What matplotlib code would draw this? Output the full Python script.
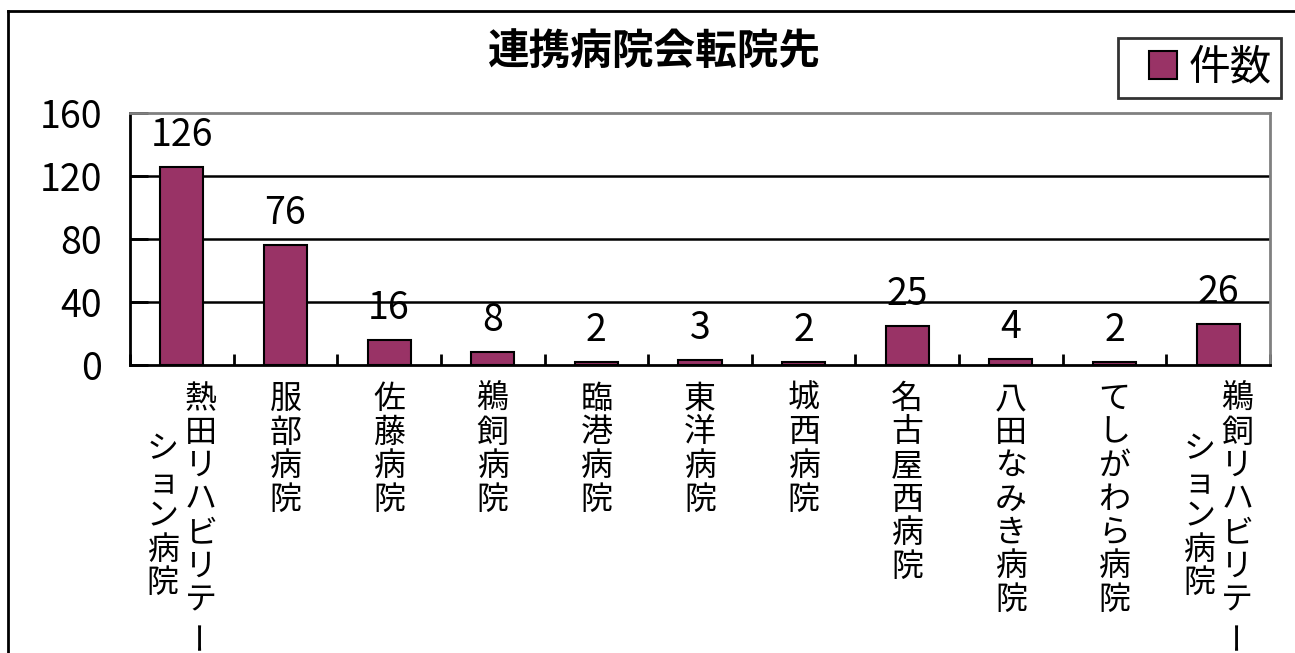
import matplotlib
matplotlib.use("Agg")
import matplotlib.pyplot as plt
from matplotlib.lines import Line2D

plt.rcParams['font.family'] = ['Noto Sans CJK JP', 'DejaVu Sans']

# データ
titulo = "連携病院会転院先"
serie = "件数"
hospitais = [
    ["熱田リハビリテー", "ション病院"],
    ["服部病院"],
    ["佐藤病院"],
    ["鵜飼病院"],
    ["臨港病院"],
    ["東洋病院"],
    ["城西病院"],
    ["名古屋西病院"],
    ["八田なみき病院"],
    ["てしがわら病院"],
    ["鵜飼リハビリテー", "ション病院"],
]
casos = [126, 76, 16, 8, 2, 3, 2, 25, 4, 2, 26]
yticks = [0, 40, 80, 120, 160]

cor = "#993366"
W, H = 1295, 653
fig = plt.figure(figsize=(W / 100, H / 100), dpi=100)
ax = fig.add_axes([130 / W, (H - 365) / H, 1140 / W, 252 / H])

x = list(range(len(casos)))
ax.bar(x, casos, width=0.415, color=cor, edgecolor="black", linewidth=1.5, zorder=3)

ax.set_xlim(-0.5, len(casos) - 0.5)
ax.set_ylim(0, 160)
ax.set_yticks(yticks)
ax.tick_params(axis="y", direction="in", length=13, width=2, labelsize=27, pad=20)
ax.set_xticks([])
ax.set_xticks([i - 0.5 for i in range(len(casos) + 1)], minor=True)
ax.tick_params(axis="x", which="minor", direction="in", length=8, width=2)
ax.tick_params(axis="x", which="major", length=0)

for y in yticks[1:-1]:
    ax.axhline(y, color="black", linewidth=1.8, zorder=1)

for lado in ["top", "right"]:
    ax.spines[lado].set_color("#808080")
    ax.spines[lado].set_linewidth(2)
for lado in ["left", "bottom"]:
    ax.spines[lado].set_color("black")
    ax.spines[lado].set_linewidth(2)

# rótulos de valor
for i, v in enumerate(casos):
    ax.annotate(str(v), xy=(i, v), xytext=(0, 21), textcoords="offset pixels",
                ha="center", va="baseline", fontsize=27, zorder=4)

# rótulos verticais das categorias
passo = 33.5
for i, colunas in enumerate(hospitais):
    n = len(colunas)
    maior = max(len(c) for c in colunas)
    for j, coluna in enumerate(colunas):
        dx = 0 if n == 1 else (19 if j == 0 else -19)
        inicio = (maior - len(coluna)) / 2
        for k, ch in enumerate(coluna):
            rot = 90 if ch == "ー" else 0
            ax.annotate(ch, xy=(i, 0), xycoords=("data", "axes fraction"),
                        xytext=(dx, -(34 + (inicio + k) * passo)),
                        textcoords="offset pixels", ha="center", va="center",
                        fontsize=23, rotation=rot, annotation_clip=False)

fig.text(654.5 / W, 1 - 52 / H, titulo, ha="center", va="center",
         fontsize=30, fontweight="bold")

marcador = Line2D([], [], marker="s", linestyle="none", markersize=19.5,
                  markerfacecolor=cor, markeredgecolor="black", markeredgewidth=1.5)
leg = fig.legend([marcador], [serie], loc="center",
                 bbox_to_anchor=(1199.5 / W, 1 - 68 / H), fontsize=30,
                 frameon=True, fancybox=False, shadow=False, handlelength=1.75,
                 handletextpad=-0.26, borderpad=0.22, borderaxespad=0)
leg.get_frame().set_edgecolor("black")
leg.get_frame().set_linewidth(2)

# moldura externa
fig.add_artist(Line2D([8 / W, 8 / W], [0, 1 - 11 / H], transform=fig.transFigure,
                      color="black", linewidth=2))
fig.add_artist(Line2D([8 / W, 1], [1 - 11 / H, 1 - 11 / H], transform=fig.transFigure,
                      color="black", linewidth=2))

fig.savefig("out.png", dpi=100)
